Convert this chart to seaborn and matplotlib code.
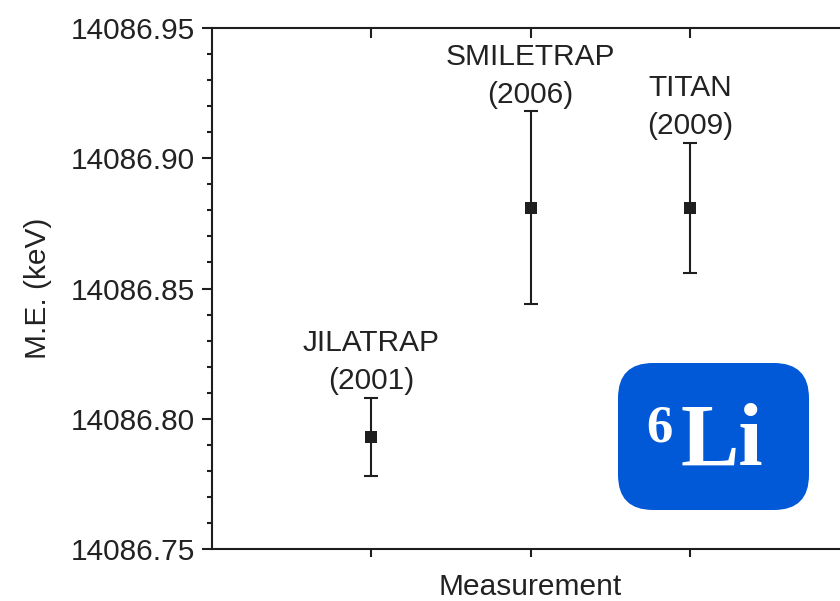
import matplotlib
matplotlib.use("Agg")
import matplotlib.pyplot as plt
import seaborn as sns
import numpy as np
import pandas as pd
from matplotlib.patches import FancyBboxPatch
from matplotlib.ticker import FormatStrFormatter, MultipleLocator, FixedLocator

# ---- data ----
labels = ["JILATRAP\n(2001)", "SMILETRAP\n(2006)", "TITAN\n(2009)"]
positions = [1, 2, 3]
values = [14086.793, 14086.881, 14086.881]
errors = [0.015, 0.037, 0.025]
y_ticks = [14086.75, 14086.80, 14086.85, 14086.90, 14086.95]

sns.set_theme(style="white")
plt.rcParams['font.family'] = ['Liberation Sans', 'DejaVu Sans']

df = pd.DataFrame({"pos": positions, "val": values, "err": errors, "label": labels})

fig = plt.figure(figsize=(8.4, 6.01), dpi=100)
ax = fig.add_axes([212/840, 52/601, (849-212)/840, 521/601])

dark = "#1e1e1e"
txt = "#222222"
fs = 21.5
ax.errorbar(df["pos"], df["val"], yerr=df["err"], fmt="none", ecolor=dark,
            elinewidth=1.5, capsize=4.7, capthick=1.5, zorder=2)
sns.scatterplot(data=df, x="pos", y="val", marker="s", s=75, color=dark,
                edgecolor=dark, linewidth=0, ax=ax, zorder=3)

for p, v, e, lab in zip(df["pos"], df["val"], df["err"], df["label"]):
    ax.annotate(lab, xy=(p, v + e), xytext=(0, 2), textcoords="offset points",
                ha="center", va="bottom", fontsize=fs, color=txt,
                linespacing=1.45, multialignment="center")

ax.set_xlim(0, 4)
ax.set_ylim(14086.75, 14086.95)
ax.yaxis.set_major_locator(FixedLocator(y_ticks))
ax.yaxis.set_minor_locator(MultipleLocator(0.01))
ax.yaxis.set_major_formatter(FormatStrFormatter("%.2f"))
ax.set_xticks(positions)
ax.set_xticklabels([])
ax.tick_params(axis="y", which="major", direction="out", length=7, width=1.5,
               color=dark, labelsize=fs, labelcolor=txt, pad=5, left=True)
ax.tick_params(axis="y", which="minor", direction="out", length=3.5, width=1.5,
               color=dark, left=True)
ax.tick_params(axis="x", which="major", direction="out", length=6, width=1.5,
               color=dark, bottom=True, top=False)

# top spine inward ticks
secx = ax.secondary_xaxis("top")
secx.set_xticks(positions)
secx.set_xticklabels([])
secx.tick_params(direction="in", length=7, width=1.5, color=dark)
secx.spines["top"].set_visible(False)

for s in ["left", "bottom", "top", "right"]:
    ax.spines[s].set_color(dark)
    ax.spines[s].set_linewidth(1.5)

ax.set_xlabel("Measurement", fontsize=fs, color=txt, labelpad=8)
ax.set_ylabel("M.E. (keV)", fontsize=fs, color=txt, labelpad=14)

# 6Li badge
box = FancyBboxPatch((6.18 + 0.35, 0.91 + 0.35), 1.91 - 0.7, 1.47 - 0.7,
                     boxstyle="round,pad=0.35", transform=fig.dpi_scale_trans,
                     facecolor="#0259d8", edgecolor="none", zorder=5)
fig.patches.append(box)
fig.text(6.81, 1.36, "Li", transform=fig.dpi_scale_trans, fontsize=63,
         family="Liberation Serif", fontweight="bold", color="white",
         ha="left", va="baseline", zorder=6)
fig.text(6.46, 1.59, "6", transform=fig.dpi_scale_trans, fontsize=38,
         family="Liberation Serif", fontweight="bold", color="white",
         ha="left", va="baseline", zorder=6)

fig.savefig("out.png", dpi=100)
